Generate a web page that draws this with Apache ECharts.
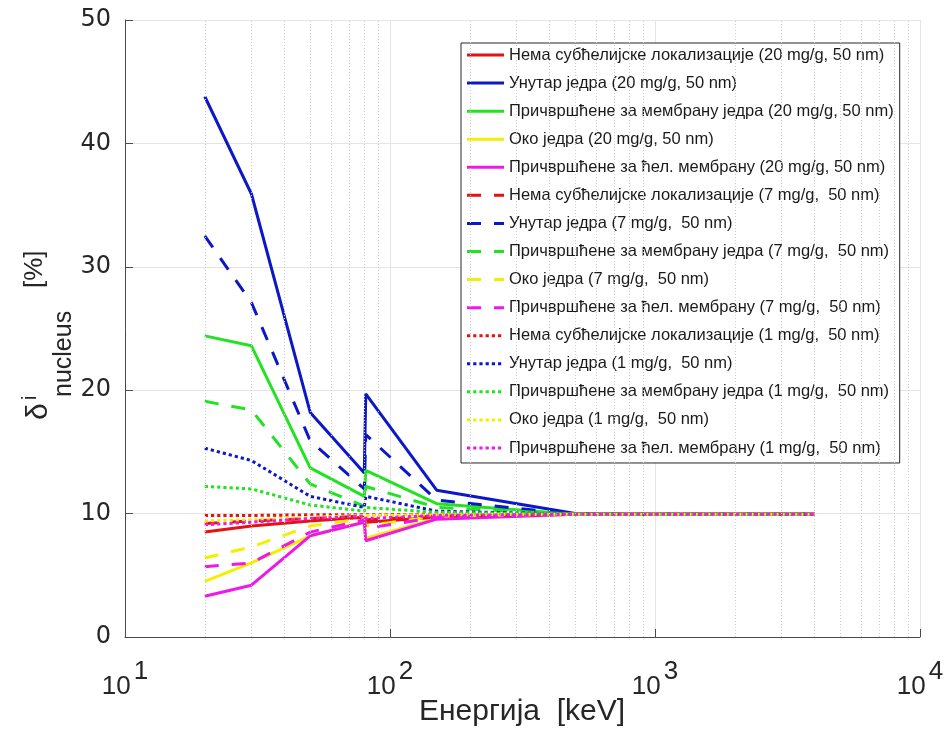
<!DOCTYPE html>
<html>
<head>
<meta charset="utf-8">
<script src="https://cdn.jsdelivr.net/npm/echarts@6/dist/echarts.min.js"></script>
<style>
  html, body { margin: 0; padding: 0; background: #ffffff; }
  #chart { width: 947px; height: 736px; }
</style>
</head>
<body>
<div id="chart"></div>
<script>
// Photon energy grid [keV]
const energy = [20, 30, 50, 80, 81, 150, 500, 1000, 4000];

// Minor decade positions for the dotted log grid
const minorGrid = [20, 30, 40, 50, 60, 70, 80, 90,
                   200, 300, 400, 500, 600, 700, 800, 900,
                   2000, 3000, 4000, 5000, 6000, 7000, 8000, 9000];

// Localisation categories and concentrations
const locations = [
  'Нема субћелијске локализације',
  'Унутар једра',
  'Причвршћене за мембрану једра',
  'Око једра',
  'Причвршћене за ћел. мембрану'
];
const concLabels = ['(20 mg/g, 50 nm)', '(7 mg/g,  50 nm)', '(1 mg/g,  50 nm)'];

// δ_nucleus [%] — 20 mg/g
const none20    = [8.5, 9.0, 9.4, 9.7, 9.3, 9.7, 9.95, 9.95, 9.95];
const inside20  = [43.8, 35.9, 18.2, 13.3, 19.7, 11.9, 10.0, 9.95, 9.95];
const nucMem20  = [24.4, 23.6, 13.7, 11.4, 13.5, 10.8, 9.95, 9.95, 9.95];
const around20  = [4.5, 6.0, 8.2, 9.35, 8.0, 9.6, 9.95, 9.95, 9.95];
const cellMem20 = [3.3, 4.2, 8.2, 9.3, 7.8, 9.55, 9.95, 9.95, 9.95];

// δ_nucleus [%] — 7 mg/g
const none7    = [9.2, 9.4, 9.6, 9.8, 9.5, 9.8, 9.95, 9.95, 9.95];
const inside7  = [32.5, 27.1, 15.9, 12.0, 16.4, 11.1, 9.95, 9.95, 9.95];
const nucMem7  = [19.1, 18.4, 12.4, 10.6, 12.2, 10.5, 9.95, 9.95, 9.95];
const around7  = [6.4, 7.3, 9.0, 9.6, 9.0, 9.8, 9.95, 9.95, 9.95];
const cellMem7 = [5.7, 6.0, 8.5, 9.5, 8.8, 9.7, 9.95, 9.95, 9.95];

// δ_nucleus [%] — 1 mg/g
const none1    = [9.85, 9.85, 9.9, 9.9, 9.9, 9.95, 9.95, 9.95, 9.95];
const inside1  = [15.3, 14.3, 11.4, 10.5, 11.4, 10.2, 9.95, 9.95, 9.95];
const nucMem1  = [12.2, 12.0, 10.7, 10.2, 10.5, 10.1, 9.95, 9.95, 9.95];
const around1  = [9.4, 9.5, 9.7, 9.85, 9.7, 9.9, 9.95, 9.95, 9.95];
const cellMem1 = [9.1, 9.3, 9.6, 9.8, 9.6, 9.85, 9.95, 9.95, 9.95];

const groups = [
  [none20, inside20, nucMem20, around20, cellMem20],
  [none7, inside7, nucMem7, around7, cellMem7],
  [none1, inside1, nucMem1, around1, cellMem1]
];

const colors = ['#e41212', '#0c18c8', '#22e222', '#f4ee00', '#ee18e8'];
const dashes = ['solid', [14, 13], [3.2, 3]];

const FONT = '"Liberation Sans", Arial, Helvetica, sans-serif';
const TEXT = '#262626';

const names = [];
const series = [{
  // dotted minor grid of the logarithmic energy axis
  type: 'line',
  name: '__minor',
  data: [],
  silent: true,
  z: 1,
  markLine: {
    silent: true,
    symbol: ['none', 'none'],
    label: { show: false },
    animation: false,
    lineStyle: { color: '#cdcdcd', type: [1, 2], width: 1 },
    data: minorGrid.map(v => ({ xAxis: v }))
  }
}];

groups.forEach((grp, g) => {
  grp.forEach((vals, k) => {
    const name = locations[k] + ' ' + concLabels[g];
    names.push(name);
    series.push({
      name: name,
      type: 'line',
      symbol: 'none',
      symbolSize: 0,
      showSymbol: false,
      z: 3,
      data: energy.map((e, i) => [e, vals[i]]),
      lineStyle: { color: colors[k], width: 3, type: dashes[g] },
      itemStyle: { color: colors[k] }
    });
  });
});

const chart = echarts.init(document.getElementById('chart'), null, { renderer: 'canvas' });

chart.setOption({
  animation: false,
  backgroundColor: '#ffffff',
  grid: { left: 125, right: 27, top: 20, bottom: 99, containLabel: false },
  xAxis: {
    type: 'log',
    logBase: 10,
    min: 10,
    max: 10000,
    splitNumber: 3,
    axisLine: { show: true, lineStyle: { color: '#4a4a4a', width: 1 } },
    axisTick: { show: true, inside: true, length: 8, lineStyle: { color: '#4a4a4a' } },
    splitLine: { show: true, lineStyle: { color: '#e4e4e4', width: 1 } },
    axisLabel: {
      margin: 22,
      showMinLabel: true,
      showMaxLabel: true,
      formatter: v => '{b|10}{s|' + Math.round(Math.log10(v)) + '}',
      rich: {
        b: { fontFamily: FONT, fontSize: 26, color: TEXT, lineHeight: 26, verticalAlign: 'bottom' },
        s: { fontFamily: FONT, fontSize: 26, color: TEXT, lineHeight: 41, verticalAlign: 'top', padding: [0, 0, 0, 3] }
      }
    }
  },
  yAxis: {
    type: 'value',
    min: 0,
    max: 50,
    interval: 10,
    axisLine: { show: true, lineStyle: { color: '#4a4a4a', width: 1 } },
    axisTick: { show: true, inside: true, length: 8, lineStyle: { color: '#4a4a4a' } },
    splitLine: { show: true, lineStyle: { color: '#e4e4e4', width: 1 } },
    axisLabel: { margin: 14, fontFamily: '"DejaVu Sans", sans-serif', fontSize: 24, color: TEXT }
  },
  legend: {
    data: names,
    orient: 'vertical',
    left: 461,
    top: 43,
    itemWidth: 37,
    itemHeight: 17,
    itemGap: 11.07,
    padding: [3.5, 6, 6.5, 4.5],
    backgroundColor: '#ffffff',
    borderColor: '#262626',
    borderWidth: 1,
    selectedMode: false,
    itemStyle: { opacity: 0, borderWidth: 0 },
    lineStyle: { width: 3 },
    textStyle: { fontFamily: FONT, fontSize: 16.5, color: '#1a1a1a' }
  },
  graphic: [
    { type: 'text', x: 522, y: 712, z: 10,
      style: { text: 'Енергија  [keV]', font: '30px ' + FONT, fill: TEXT, align: 'center', verticalAlign: 'middle', textAlign: 'center', textVerticalAlign: 'middle' } },
    { type: 'text', x: 39, y: 420, rotation: Math.PI / 2, z: 10,
      style: { text: 'δ', font: '30px ' + FONT, fill: TEXT, align: 'left', verticalAlign: 'middle', textAlign: 'left', textVerticalAlign: 'middle' } },
    { type: 'text', x: 30, y: 400, rotation: Math.PI / 2, z: 10,
      style: { text: 'i', font: '20px ' + FONT, fill: TEXT, align: 'left', verticalAlign: 'middle', textAlign: 'left', textVerticalAlign: 'middle' } },
    { type: 'text', x: 64, y: 397, rotation: Math.PI / 2, z: 10,
      style: { text: 'nucleus', font: '25px ' + FONT, fill: TEXT, align: 'left', verticalAlign: 'middle', textAlign: 'left', textVerticalAlign: 'middle' } },
    { type: 'text', x: 35, y: 288, rotation: Math.PI / 2, z: 10,
      style: { text: '[%]', font: '26px ' + FONT, fill: TEXT, align: 'left', verticalAlign: 'middle', textAlign: 'left', textVerticalAlign: 'middle' } }
  ],
  series: series
});
</script>
</body>
</html>
